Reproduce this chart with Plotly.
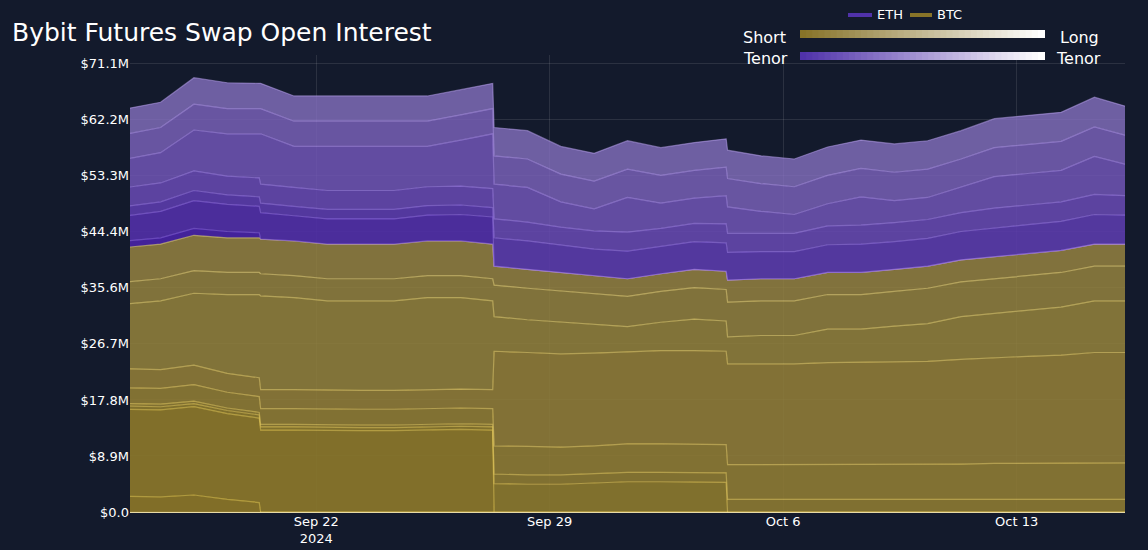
import plotly.graph_objects as go

dates = ["2024-09-16 08:00", "2024-09-17 08:00", "2024-09-18 08:00", "2024-09-19 08:00",
         "2024-09-20 07:00", "2024-09-20 08:00", "2024-09-21 08:00", "2024-09-22 08:00",
         "2024-09-23 08:00", "2024-09-24 08:00", "2024-09-25 08:00", "2024-09-26 08:00",
         "2024-09-27 07:00", "2024-09-27 08:00", "2024-09-28 08:00", "2024-09-29 08:00",
         "2024-09-30 08:00", "2024-10-01 08:00", "2024-10-02 08:00", "2024-10-03 08:00",
         "2024-10-04 07:00", "2024-10-04 08:00", "2024-10-05 08:00", "2024-10-06 08:00",
         "2024-10-07 08:00", "2024-10-08 08:00", "2024-10-09 08:00", "2024-10-10 08:00",
         "2024-10-11 08:00", "2024-10-12 08:00", "2024-10-13 08:00", "2024-10-14 08:00",
         "2024-10-15 08:00", "2024-10-16 06:00"]

# open interest in $M, short tenor first
btc_series = [
    [2.5, 2.4, 2.7, 2.0, 1.5, 0, 0, 0, 0, 0, 0, 0, 0, 0, 0, 0, 0, 0, 0, 0, 0, 0, 0, 0, 0, 0, 0, 0, 0, 0, 0, 0, 0, 0],
    [13.8, 13.8, 14.0, 13.6, 13.4, 13.0, 13.0, 12.9, 12.9, 12.9, 13.0, 13.1, 13.0, 0, 0, 0, 0, 0, 0, 0, 0, 0, 0, 0, 0, 0, 0, 0, 0, 0, 0, 0, 0, 0],
    [0.5, 0.5, 0.5, 0.5, 0.5, 0.5, 0.5, 0.5, 0.5, 0.5, 0.5, 0.5, 0.5, 4.5, 4.4, 4.4, 4.6, 4.8, 4.8, 4.7, 4.7, 0, 0, 0, 0, 0, 0, 0, 0, 0, 0, 0, 0, 0],
    [0.4, 0.4, 0.4, 0.4, 0.4, 0.4, 0.4, 0.4, 0.4, 0.4, 0.4, 0.4, 0.4, 1.5, 1.5, 1.5, 1.5, 1.5, 1.5, 1.5, 1.5, 2.0, 2.0, 2.0, 2.0, 2.0, 2.0, 2.0, 2.0, 2.0, 2.0, 2.0, 2.0, 2.0],
    [2.5, 2.5, 2.6, 2.5, 2.5, 2.5, 2.5, 2.5, 2.5, 2.5, 2.5, 2.5, 2.5, 4.5, 4.5, 4.4, 4.4, 4.5, 4.5, 4.5, 4.5, 5.5, 5.5, 5.5, 5.5, 5.6, 5.6, 5.5, 5.6, 5.7, 5.7, 5.7, 5.8, 5.8],
    [3.0, 3.0, 3.1, 3.0, 3.0, 3.0, 3.0, 3.0, 3.0, 3.0, 3.0, 3.0, 3.0, 15.0, 14.9, 14.8, 14.7, 14.6, 14.8, 14.9, 14.8, 16.0, 16.0, 16.0, 16.2, 16.2, 16.3, 16.4, 16.6, 16.8, 17.0, 17.2, 17.5, 17.5],
    [10.3, 10.9, 11.4, 12.5, 13.2, 14.9, 14.6, 14.2, 14.2, 14.2, 14.6, 14.5, 14.1, 5.5, 5.2, 5.0, 4.5, 4.0, 4.5, 5.0, 4.8, 4.3, 4.5, 4.5, 5.3, 5.2, 5.6, 6.0, 6.8, 7.0, 7.3, 7.6, 8.2, 8.2],
    [3.5, 3.5, 3.6, 3.5, 3.5, 3.5, 3.5, 3.5, 3.5, 3.5, 3.5, 3.5, 3.5, 5.0, 5.0, 5.0, 4.9, 4.8, 4.9, 5.0, 5.0, 5.5, 5.5, 5.5, 5.5, 5.5, 5.5, 5.6, 5.5, 5.5, 5.5, 5.5, 5.5, 5.5],
    [5.5, 5.5, 5.6, 5.5, 5.5, 5.5, 5.5, 5.5, 5.5, 5.5, 5.5, 5.5, 5.5, 3.0, 3.0, 2.9, 2.9, 2.8, 2.8, 2.9, 2.9, 3.5, 3.5, 3.5, 3.5, 3.5, 3.5, 3.5, 3.5, 3.5, 3.5, 3.5, 3.5, 3.5],
]

eth_series = [
    [1.0, 1.0, 1.1, 1.0, 0.8, 0, 0, 0, 0, 0, 0, 0, 0, 0, 0, 0, 0, 0, 0, 0, 0, 0, 0, 0, 0, 0, 0, 0, 0, 0, 0, 0, 0, 0],
    [4.0, 4.2, 4.4, 4.3, 4.2, 4.2, 4.0, 4.0, 4.0, 4.0, 4.1, 4.2, 4.3, 0, 0, 0, 0, 0, 0, 0, 0, 0, 0, 0, 0, 0, 0, 0, 0, 0, 0, 0, 0, 0],
    [1.5, 1.5, 1.6, 1.5, 1.5, 1.5, 1.5, 1.5, 1.5, 1.5, 1.5, 1.5, 1.5, 4.5, 4.5, 4.3, 4.2, 4.4, 4.3, 4.4, 4.5, 4.4, 4.3, 4.3, 4.4, 4.5, 4.4, 4.4, 4.5, 4.6, 4.6, 4.6, 4.7, 4.6],
    [3.0, 3.0, 3.1, 3.0, 3.0, 3.0, 3.0, 3.0, 3.0, 3.0, 3.0, 3.0, 3.0, 3.0, 3.0, 2.9, 2.9, 3.0, 2.9, 2.9, 3.0, 3.0, 2.9, 2.9, 3.0, 3.0, 3.0, 3.0, 3.0, 3.1, 3.1, 3.1, 3.2, 3.1],
    [4.5, 4.8, 6.5, 6.7, 7.0, 8.0, 6.5, 7.0, 7.0, 7.0, 6.4, 7.3, 8.7, 5.5, 5.5, 4.0, 3.5, 5.5, 4.0, 4.0, 4.5, 4.2, 3.5, 3.0, 3.5, 4.5, 3.5, 3.5, 4.0, 5.0, 5.0, 5.0, 6.0, 5.0],
    [4.0, 4.0, 4.1, 4.0, 4.0, 4.0, 4.0, 4.0, 4.0, 4.0, 4.0, 4.0, 4.0, 4.5, 4.5, 4.4, 4.4, 4.5, 4.4, 4.4, 4.5, 4.5, 4.4, 4.4, 4.5, 4.5, 4.5, 4.5, 4.5, 4.6, 4.6, 4.6, 4.7, 4.6],
    [4.0, 4.0, 4.2, 4.1, 4.0, 4.0, 4.0, 4.0, 4.0, 4.0, 4.0, 4.0, 4.0, 4.5, 4.5, 4.4, 4.4, 4.5, 4.4, 4.4, 4.5, 4.5, 4.4, 4.4, 4.5, 4.5, 4.5, 4.5, 4.5, 4.6, 4.6, 4.6, 4.7, 4.6],
]

y_ticks = [0, 8.8875, 17.775, 26.6625, 35.55, 44.4375, 53.325, 62.2125, 71.1]
y_tick_labels = ["$0.0", "$8.9M", "$17.8M", "$26.7M", "$35.6M", "$44.4M", "$53.3M", "$62.2M", "$71.1M"]

BG = "#131a2c"
BTC_RGB = (135, 115, 40)
ETH_RGB = (80, 50, 170)
FONT = "DejaVu Sans"


def mix(rgb, t):
    return tuple(int(c + (255 - c) * t) for c in rgb)


fig = go.Figure()

for i, vals in enumerate(btc_series):
    t = i / (len(btc_series) - 1)
    f = mix(BTC_RGB, 0.12 * t)
    l = mix((235, 205, 80), 0.3 * t)
    fig.add_trace(go.Scatter(
        x=dates, y=[v * 1e6 for v in vals], stackgroup="oi", mode="lines",
        line=dict(width=1.2, color=f"rgba({l[0]},{l[1]},{l[2]},0.55)"),
        fillcolor=f"rgba({f[0]},{f[1]},{f[2]},{0.95 - 0.1 * t:.2f})",
        showlegend=False, hoverinfo="skip"))

for i, vals in enumerate(eth_series):
    t = i / (len(eth_series) - 1)
    f = mix((70, 35, 160), 0.35 * t)
    l = mix((150, 110, 240), 0.4 * t)
    fig.add_trace(go.Scatter(
        x=dates, y=[v * 1e6 for v in vals], stackgroup="oi", mode="lines",
        line=dict(width=1.2, color=f"rgba({l[0]},{l[1]},{l[2]},0.5)"),
        fillcolor=f"rgba({f[0]},{f[1]},{f[2]},{0.95 - 0.15 * t:.2f})",
        showlegend=False, hoverinfo="skip"))

TOP, BOT = 55, 512


def px(x):
    return (x - 130) / 995


def py(y):
    return (BOT - y) / (BOT - TOP)


# legend drawn by hand so it does not push the plot area
for name, rgb, xa, xb in [("ETH", ETH_RGB, 848, 872), ("BTC", BTC_RGB, 910, 932)]:
    fig.add_shape(type="line", xref="paper", yref="paper", x0=px(xa), x1=px(xb), y0=py(15), y1=py(15),
                  line=dict(color=f"rgb{rgb}", width=4))
    fig.add_annotation(text=name, xref="paper", yref="paper", x=px(xb + 3), y=py(15),
                       xanchor="left", yanchor="middle", showarrow=False,
                       font=dict(family=FONT, size=13, color="white"))

# tenor gradient bars
n = 40
x0, x1 = px(800), px(1044)
for k in range(n):
    t = k / (n - 1)
    gb = mix(BTC_RGB, t)
    ge = mix(ETH_RGB, t)
    xa = x0 + (x1 - x0) * k / n
    xb = x0 + (x1 - x0) * (k + 1) / n + 0.001
    fig.add_shape(type="rect", xref="paper", yref="paper", x0=xa, x1=xb, y0=py(38), y1=py(30),
                  fillcolor=f"rgb{gb}", line_width=0, layer="above")
    fig.add_shape(type="rect", xref="paper", yref="paper", x0=xa, x1=xb, y0=py(60), y1=py(52),
                  fillcolor=f"rgb{ge}", line_width=0, layer="above")

for txt, x, y, anchor in [("Short", 788, 38, "right"), ("Tenor", 790, 58, "right"),
                          ("Long", 1058, 38, "left"), ("Tenor", 1054, 58, "left")]:
    fig.add_annotation(text=txt, xref="paper", yref="paper", x=px(x), y=py(y),
                       xanchor=anchor, yanchor="middle", showarrow=False,
                       font=dict(family=FONT, size=16, color="white"))

fig.add_annotation(text="Bybit Futures Swap Open Interest", xref="paper", yref="paper",
                   x=px(10), y=py(32), xanchor="left", yanchor="middle", showarrow=False,
                   font=dict(family=FONT, size=25, color="white"))

fig.update_layout(
    width=1148, height=550,
    paper_bgcolor=BG, plot_bgcolor=BG,
    margin=dict(l=130, r=23, t=TOP, b=550 - BOT),
    showlegend=False,
    xaxis=dict(range=["2024-09-16 10:00", "2024-10-16 06:00"], showgrid=True, automargin=False,
               gridcolor="rgba(255,255,255,0.1)", tickfont=dict(family=FONT, size=13, color="white"),
               showline=False, zeroline=False,
               tickvals=["2024-09-22", "2024-09-29", "2024-10-06", "2024-10-13"],
               ticktext=["Sep 22<br>2024", "Sep 29", "Oct 6", "Oct 13"]),
    yaxis=dict(range=[0, 72.5e6], tickvals=[v * 1e6 for v in y_ticks], ticktext=y_tick_labels,
               showgrid=True, gridcolor="rgba(255,255,255,0.1)", zeroline=True, automargin=False,
               zerolinecolor="rgba(255,240,180,0.9)", zerolinewidth=2,
               tickfont=dict(family=FONT, size=13, color="white")),
)

fig.write_html("out.html", config={"displayModeBar": False},
               post_script="document.body.style.margin='0';")
